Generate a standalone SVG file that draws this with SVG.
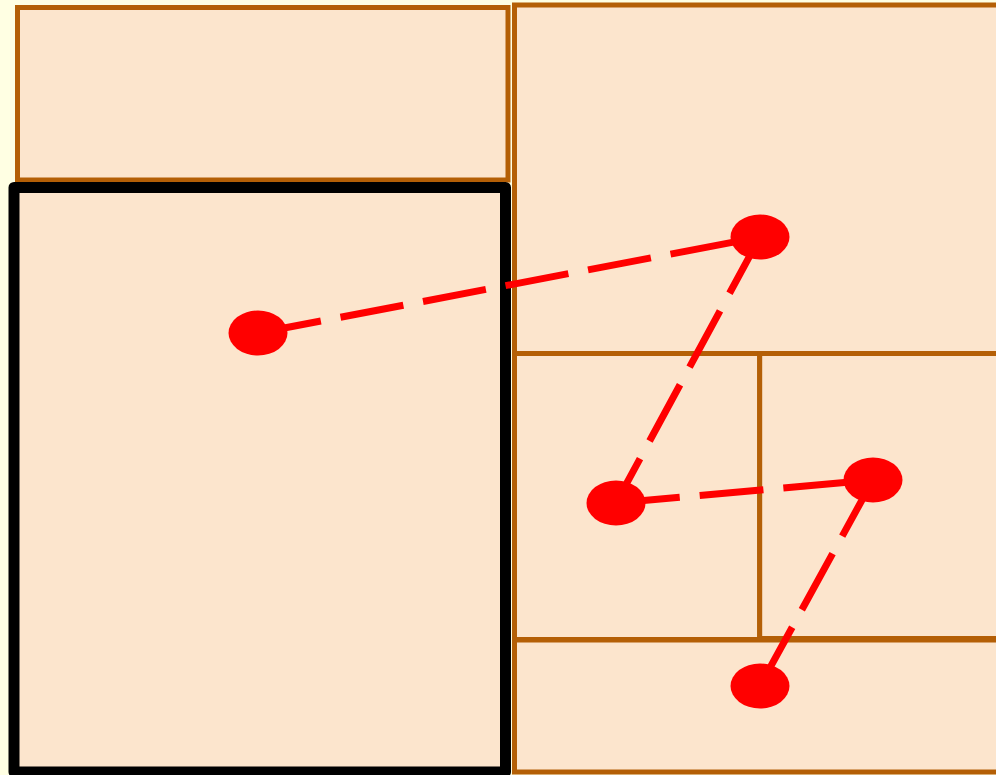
<svg xmlns="http://www.w3.org/2000/svg" width="996" height="775" viewBox="0 0 996 775">
<style>
.room{fill:#fce5cd;stroke:#b45f06;stroke-width:5}
.sel{fill:#fce5cd;stroke:#000;stroke-width:11;stroke-linejoin:round}
.dot{fill:#ff0000}
.link{stroke:#ff0000;stroke-width:7;stroke-dasharray:64 20;fill:none}
</style>
<rect x="0" y="0" width="996" height="775" fill="#ffffe3"/>
<g id="room-top-left"><rect class="room" x="17.5" y="7.5" width="490.5" height="172.5"/></g>
<g id="room-top-right"><rect class="room" x="514.5" y="5" width="490" height="348.5"/></g>
<g id="room-mid-left"><rect class="room" x="514.5" y="353.5" width="245.2" height="286"/></g>
<g id="room-mid-right"><rect class="room" x="759.7" y="353.5" width="245" height="285"/></g>
<g id="room-bottom"><rect class="room" x="514.5" y="640" width="490" height="132"/></g>
<g id="room-selected"><rect class="sel" x="14" y="187.5" width="491.5" height="584.5"/></g>
<g id="connectors">
<line class="link" x1="258" y1="333" x2="760" y2="237"/>
<line class="link" x1="760" y1="237" x2="616" y2="503"/>
<line class="link" x1="616" y1="503" x2="873" y2="480"/>
<line class="link" x1="873" y1="480" x2="760" y2="686"/>
</g>
<g id="node-1"><ellipse class="dot" cx="258" cy="333" rx="29.5" ry="22.5"/></g>
<g id="node-2"><ellipse class="dot" cx="760" cy="237" rx="29.5" ry="22.5"/></g>
<g id="node-3"><ellipse class="dot" cx="616" cy="503" rx="29.5" ry="22.5"/></g>
<g id="node-4"><ellipse class="dot" cx="873" cy="480" rx="29.5" ry="22.5"/></g>
<g id="node-5"><ellipse class="dot" cx="760" cy="686" rx="29.5" ry="22.5"/></g>
</svg>
